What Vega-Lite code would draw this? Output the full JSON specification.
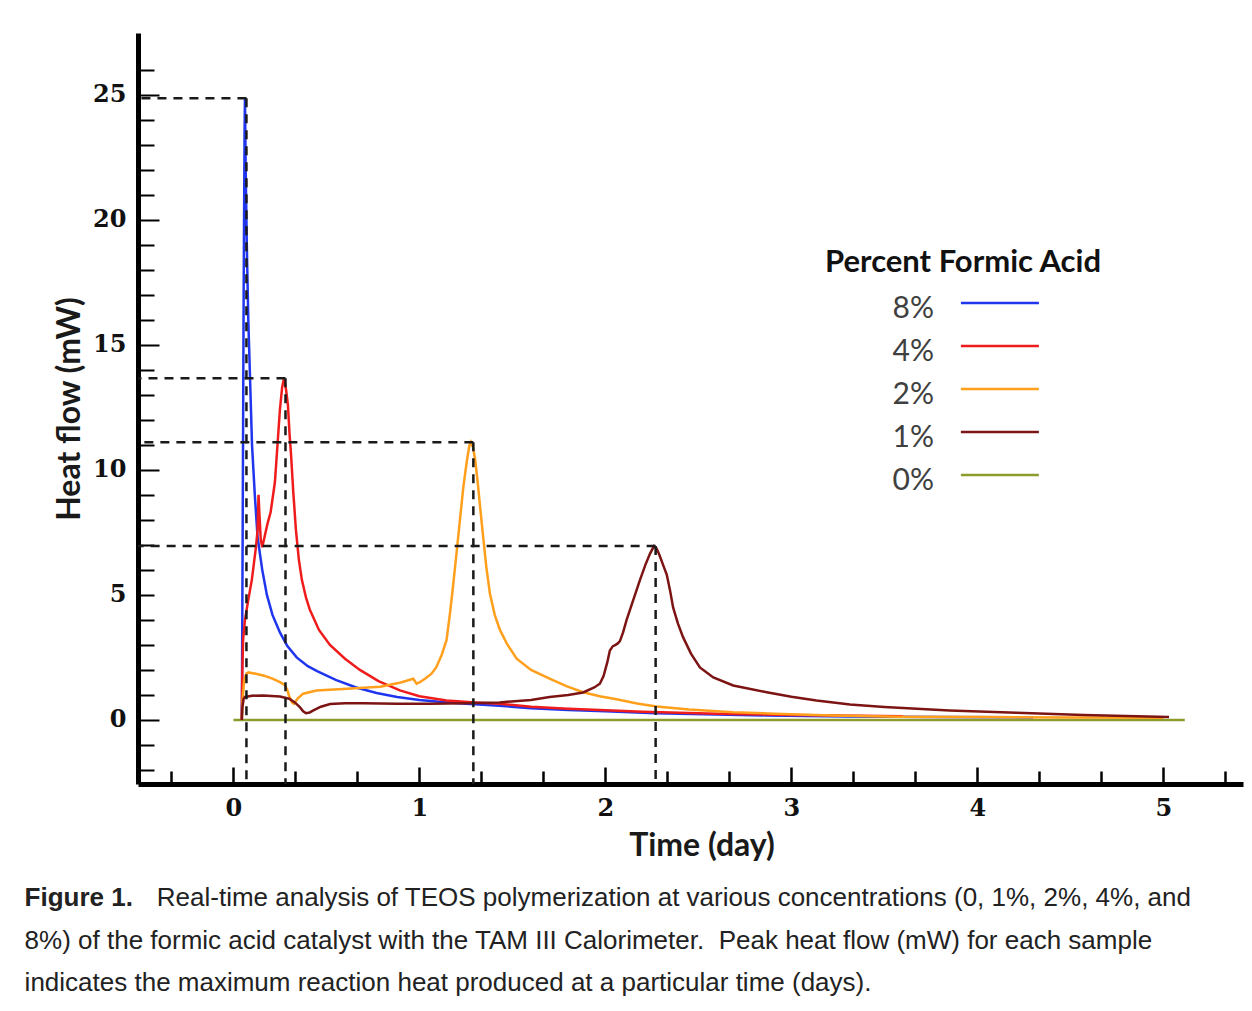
{
  "$schema": "https://vega.github.io/schema/vega-lite/v6.json",
  "width": 1105,
  "height": 751,
  "autosize": {"type": "none"},
  "padding": {"left": 138, "top": 33, "right": 9, "bottom": 227},
  "background": "white",
  "config": {"view": {"stroke": null}, "axis": {"grid": false}},
  "title": {
    "text": "Figure 1.",
    "subtitle": [
      "\u200b\u2003\u2003\u2003\u2003\u2003\u200aReal-time analysis of TEOS polymerization at various concentrations (0, 1%, 2%, 4%, and",
      "8%) of the formic acid catalyst with the TAM III Calorimeter.\u00a0 Peak heat flow (mW) for each sample",
      "indicates the maximum reaction heat produced at a particular time (days)."
    ],
    "orient": "bottom",
    "anchor": "start",
    "frame": "bounds",
    "offset": 24,
    "dx": -29,
    "font": "Liberation Sans",
    "fontSize": 26,
    "fontWeight": "bold",
    "color": "#222222",
    "subtitleFont": "Liberation Sans",
    "subtitleFontSize": 26,
    "subtitleFontWeight": "normal",
    "subtitleColor": "#222222",
    "subtitlePadding": -26,
    "subtitleLineHeight": 42.5
  },
  "datasets": {
    "curves": [
      {"pct": "0%", "t": 0.0, "q": 0},
      {"pct": "0%", "t": 5.115, "q": 0},

      {"pct": "8%", "t": 0.045, "q": 0.0},
      {"pct": "8%", "t": 0.046, "q": 1.0},
      {"pct": "8%", "t": 0.05, "q": 8},
      {"pct": "8%", "t": 0.055, "q": 17},
      {"pct": "8%", "t": 0.06, "q": 23.5},
      {"pct": "8%", "t": 0.062, "q": 24.9},
      {"pct": "8%", "t": 0.066, "q": 22},
      {"pct": "8%", "t": 0.072, "q": 19},
      {"pct": "8%", "t": 0.08, "q": 16},
      {"pct": "8%", "t": 0.09, "q": 13.5},
      {"pct": "8%", "t": 0.1, "q": 11},
      {"pct": "8%", "t": 0.115, "q": 9},
      {"pct": "8%", "t": 0.13, "q": 7.3},
      {"pct": "8%", "t": 0.155, "q": 6},
      {"pct": "8%", "t": 0.18, "q": 5},
      {"pct": "8%", "t": 0.21, "q": 4.2},
      {"pct": "8%", "t": 0.25, "q": 3.5},
      {"pct": "8%", "t": 0.29, "q": 2.95},
      {"pct": "8%", "t": 0.34, "q": 2.5},
      {"pct": "8%", "t": 0.4, "q": 2.15},
      {"pct": "8%", "t": 0.45, "q": 1.95},
      {"pct": "8%", "t": 0.55, "q": 1.6},
      {"pct": "8%", "t": 0.66, "q": 1.3},
      {"pct": "8%", "t": 0.77, "q": 1.08},
      {"pct": "8%", "t": 0.88, "q": 0.92},
      {"pct": "8%", "t": 1.0, "q": 0.8},
      {"pct": "8%", "t": 1.12, "q": 0.72},
      {"pct": "8%", "t": 1.23, "q": 0.66},
      {"pct": "8%", "t": 1.43, "q": 0.57},
      {"pct": "8%", "t": 1.6, "q": 0.47},
      {"pct": "8%", "t": 1.8, "q": 0.4},
      {"pct": "8%", "t": 2.0, "q": 0.35},
      {"pct": "8%", "t": 2.27, "q": 0.27},
      {"pct": "8%", "t": 2.6, "q": 0.22},
      {"pct": "8%", "t": 2.87, "q": 0.18},
      {"pct": "8%", "t": 3.3, "q": 0.14},
      {"pct": "8%", "t": 3.8, "q": 0.12},
      {"pct": "8%", "t": 4.3, "q": 0.1},

      {"pct": "4%", "t": 0.045, "q": 0},
      {"pct": "4%", "t": 0.048, "q": 2.0},
      {"pct": "4%", "t": 0.052, "q": 3.2},
      {"pct": "4%", "t": 0.062, "q": 4.0},
      {"pct": "4%", "t": 0.08, "q": 4.8},
      {"pct": "4%", "t": 0.099, "q": 5.6},
      {"pct": "4%", "t": 0.121, "q": 6.9},
      {"pct": "4%", "t": 0.13, "q": 7.6},
      {"pct": "4%", "t": 0.135, "q": 9.0},
      {"pct": "4%", "t": 0.14, "q": 8.2},
      {"pct": "4%", "t": 0.147, "q": 7.2},
      {"pct": "4%", "t": 0.155, "q": 6.9},
      {"pct": "4%", "t": 0.17, "q": 7.4},
      {"pct": "4%", "t": 0.185, "q": 7.9},
      {"pct": "4%", "t": 0.2, "q": 8.3},
      {"pct": "4%", "t": 0.223, "q": 9.5},
      {"pct": "4%", "t": 0.237, "q": 11.0},
      {"pct": "4%", "t": 0.25, "q": 12.4},
      {"pct": "4%", "t": 0.262, "q": 13.3},
      {"pct": "4%", "t": 0.272, "q": 13.65},
      {"pct": "4%", "t": 0.283, "q": 13.2},
      {"pct": "4%", "t": 0.293, "q": 12.6},
      {"pct": "4%", "t": 0.302, "q": 11.4},
      {"pct": "4%", "t": 0.309, "q": 10.7},
      {"pct": "4%", "t": 0.322, "q": 9.1},
      {"pct": "4%", "t": 0.336, "q": 7.6},
      {"pct": "4%", "t": 0.352, "q": 6.4},
      {"pct": "4%", "t": 0.368, "q": 5.6},
      {"pct": "4%", "t": 0.39, "q": 4.9},
      {"pct": "4%", "t": 0.411, "q": 4.4},
      {"pct": "4%", "t": 0.46, "q": 3.6},
      {"pct": "4%", "t": 0.519, "q": 3.0},
      {"pct": "4%", "t": 0.6, "q": 2.45},
      {"pct": "4%", "t": 0.68, "q": 2.0},
      {"pct": "4%", "t": 0.78, "q": 1.55},
      {"pct": "4%", "t": 0.895, "q": 1.18},
      {"pct": "4%", "t": 1.0, "q": 0.95},
      {"pct": "4%", "t": 1.146, "q": 0.78},
      {"pct": "4%", "t": 1.3, "q": 0.7},
      {"pct": "4%", "t": 1.43, "q": 0.65},
      {"pct": "4%", "t": 1.6, "q": 0.53},
      {"pct": "4%", "t": 1.8, "q": 0.45},
      {"pct": "4%", "t": 1.97, "q": 0.4},
      {"pct": "4%", "t": 2.2, "q": 0.33},
      {"pct": "4%", "t": 2.6, "q": 0.25},
      {"pct": "4%", "t": 3.0, "q": 0.2},
      {"pct": "4%", "t": 3.6, "q": 0.15},

      {"pct": "2%", "t": 0.045, "q": 0},
      {"pct": "2%", "t": 0.05, "q": 0.9},
      {"pct": "2%", "t": 0.058, "q": 1.6},
      {"pct": "2%", "t": 0.07, "q": 1.85},
      {"pct": "2%", "t": 0.08, "q": 1.9},
      {"pct": "2%", "t": 0.12, "q": 1.85},
      {"pct": "2%", "t": 0.16, "q": 1.78},
      {"pct": "2%", "t": 0.21, "q": 1.65},
      {"pct": "2%", "t": 0.25, "q": 1.51},
      {"pct": "2%", "t": 0.275, "q": 1.4},
      {"pct": "2%", "t": 0.29, "q": 1.2},
      {"pct": "2%", "t": 0.3, "q": 0.95},
      {"pct": "2%", "t": 0.315, "q": 0.7},
      {"pct": "2%", "t": 0.325, "q": 0.65},
      {"pct": "2%", "t": 0.345, "q": 0.85},
      {"pct": "2%", "t": 0.375, "q": 1.05},
      {"pct": "2%", "t": 0.447, "q": 1.18},
      {"pct": "2%", "t": 0.61, "q": 1.25},
      {"pct": "2%", "t": 0.79, "q": 1.33},
      {"pct": "2%", "t": 0.9, "q": 1.5},
      {"pct": "2%", "t": 0.967, "q": 1.65},
      {"pct": "2%", "t": 0.985, "q": 1.45},
      {"pct": "2%", "t": 1.0, "q": 1.5},
      {"pct": "2%", "t": 1.03, "q": 1.65},
      {"pct": "2%", "t": 1.065, "q": 1.85},
      {"pct": "2%", "t": 1.09, "q": 2.1},
      {"pct": "2%", "t": 1.12, "q": 2.6},
      {"pct": "2%", "t": 1.146, "q": 3.2},
      {"pct": "2%", "t": 1.165, "q": 4.3},
      {"pct": "2%", "t": 1.18, "q": 5.3},
      {"pct": "2%", "t": 1.2, "q": 6.7},
      {"pct": "2%", "t": 1.218, "q": 8.0},
      {"pct": "2%", "t": 1.236, "q": 9.3},
      {"pct": "2%", "t": 1.254, "q": 10.3},
      {"pct": "2%", "t": 1.268, "q": 10.95},
      {"pct": "2%", "t": 1.277, "q": 11.1},
      {"pct": "2%", "t": 1.288, "q": 10.9},
      {"pct": "2%", "t": 1.3, "q": 10.4},
      {"pct": "2%", "t": 1.312, "q": 9.6},
      {"pct": "2%", "t": 1.328, "q": 8.4},
      {"pct": "2%", "t": 1.343, "q": 7.3},
      {"pct": "2%", "t": 1.36, "q": 6.1},
      {"pct": "2%", "t": 1.379, "q": 5.05},
      {"pct": "2%", "t": 1.405, "q": 4.2},
      {"pct": "2%", "t": 1.433, "q": 3.6},
      {"pct": "2%", "t": 1.47, "q": 3.05},
      {"pct": "2%", "t": 1.523, "q": 2.45},
      {"pct": "2%", "t": 1.6, "q": 2.0},
      {"pct": "2%", "t": 1.7, "q": 1.65},
      {"pct": "2%", "t": 1.79, "q": 1.35},
      {"pct": "2%", "t": 1.88, "q": 1.11},
      {"pct": "2%", "t": 1.97, "q": 0.95},
      {"pct": "2%", "t": 2.06, "q": 0.83},
      {"pct": "2%", "t": 2.17, "q": 0.66},
      {"pct": "2%", "t": 2.275, "q": 0.54},
      {"pct": "2%", "t": 2.45, "q": 0.42},
      {"pct": "2%", "t": 2.687, "q": 0.31},
      {"pct": "2%", "t": 2.95, "q": 0.24},
      {"pct": "2%", "t": 3.22, "q": 0.18},
      {"pct": "2%", "t": 3.58, "q": 0.13},
      {"pct": "2%", "t": 4.0, "q": 0.12},
      {"pct": "2%", "t": 4.5, "q": 0.1},
      {"pct": "2%", "t": 5.0, "q": 0.09},

      {"pct": "1%", "t": 0.045, "q": 0},
      {"pct": "1%", "t": 0.048, "q": 0.5},
      {"pct": "1%", "t": 0.055, "q": 0.85},
      {"pct": "1%", "t": 0.062, "q": 0.92},
      {"pct": "1%", "t": 0.1, "q": 0.97},
      {"pct": "1%", "t": 0.16, "q": 0.98},
      {"pct": "1%", "t": 0.25, "q": 0.94},
      {"pct": "1%", "t": 0.3, "q": 0.85},
      {"pct": "1%", "t": 0.33, "q": 0.7},
      {"pct": "1%", "t": 0.357, "q": 0.51},
      {"pct": "1%", "t": 0.375, "q": 0.35},
      {"pct": "1%", "t": 0.39, "q": 0.27},
      {"pct": "1%", "t": 0.41, "q": 0.3},
      {"pct": "1%", "t": 0.43, "q": 0.38},
      {"pct": "1%", "t": 0.47, "q": 0.53},
      {"pct": "1%", "t": 0.52, "q": 0.64},
      {"pct": "1%", "t": 0.6, "q": 0.67},
      {"pct": "1%", "t": 0.7, "q": 0.67},
      {"pct": "1%", "t": 0.88, "q": 0.65},
      {"pct": "1%", "t": 1.056, "q": 0.65},
      {"pct": "1%", "t": 1.25, "q": 0.67},
      {"pct": "1%", "t": 1.43, "q": 0.7},
      {"pct": "1%", "t": 1.6, "q": 0.8},
      {"pct": "1%", "t": 1.7, "q": 0.92},
      {"pct": "1%", "t": 1.8, "q": 1.0},
      {"pct": "1%", "t": 1.88, "q": 1.1},
      {"pct": "1%", "t": 1.94, "q": 1.3},
      {"pct": "1%", "t": 1.97, "q": 1.45},
      {"pct": "1%", "t": 1.99, "q": 1.75},
      {"pct": "1%", "t": 2.01, "q": 2.3},
      {"pct": "1%", "t": 2.024, "q": 2.78},
      {"pct": "1%", "t": 2.04, "q": 2.95},
      {"pct": "1%", "t": 2.05, "q": 2.98},
      {"pct": "1%", "t": 2.065, "q": 3.05},
      {"pct": "1%", "t": 2.078, "q": 3.15},
      {"pct": "1%", "t": 2.095, "q": 3.5},
      {"pct": "1%", "t": 2.114, "q": 4.0},
      {"pct": "1%", "t": 2.15, "q": 4.8},
      {"pct": "1%", "t": 2.186, "q": 5.6},
      {"pct": "1%", "t": 2.215, "q": 6.2},
      {"pct": "1%", "t": 2.24, "q": 6.65},
      {"pct": "1%", "t": 2.261, "q": 6.95},
      {"pct": "1%", "t": 2.275, "q": 6.85},
      {"pct": "1%", "t": 2.29, "q": 6.6},
      {"pct": "1%", "t": 2.31, "q": 6.2},
      {"pct": "1%", "t": 2.33, "q": 5.8},
      {"pct": "1%", "t": 2.347, "q": 5.2},
      {"pct": "1%", "t": 2.364, "q": 4.5},
      {"pct": "1%", "t": 2.39, "q": 3.85},
      {"pct": "1%", "t": 2.418, "q": 3.3},
      {"pct": "1%", "t": 2.46, "q": 2.65},
      {"pct": "1%", "t": 2.508, "q": 2.1},
      {"pct": "1%", "t": 2.58, "q": 1.7},
      {"pct": "1%", "t": 2.687, "q": 1.38},
      {"pct": "1%", "t": 2.867, "q": 1.11},
      {"pct": "1%", "t": 3.0, "q": 0.93},
      {"pct": "1%", "t": 3.135, "q": 0.78},
      {"pct": "1%", "t": 3.315, "q": 0.62},
      {"pct": "1%", "t": 3.5, "q": 0.52},
      {"pct": "1%", "t": 3.85, "q": 0.38},
      {"pct": "1%", "t": 4.21, "q": 0.29},
      {"pct": "1%", "t": 4.57, "q": 0.2},
      {"pct": "1%", "t": 5.03, "q": 0.12}
    ],
    "peaks": [
      {"pct": "8%", "t": 0.07, "q": 24.85},
      {"pct": "4%", "t": 0.28, "q": 13.66},
      {"pct": "2%", "t": 1.29, "q": 11.1},
      {"pct": "1%", "t": 2.27, "q": 6.95}
    ]
  },
  "resolve": {"axis": {"x": "independent", "y": "independent"}},
  "layer": [
    {
      "data": {"name": "curves"},
      "mark": {"type": "line", "strokeWidth": 2.5},
      "encoding": {
        "x": {
          "field": "t", "type": "quantitative",
          "scale": {"domain": [-0.513, 5.428], "nice": false, "zero": false},
          "axis": {
            "orient": "bottom",
            "values": [0, 1, 2, 3, 4, 5],
            "ticks": false,
            "domain": true, "domainWidth": 5, "domainColor": "#000000",
            "labelFont": "DejaVu Serif", "labelFontWeight": "bold", "labelFontSize": 24,
            "labelColor": "#111111", "labelPadding": 12, "labelOverlap": false, "labelFlush": false,
            "title": "Time (day)", "titleFont": "Lato", "titleFontSize": 32, "titleFontWeight": "bold",
            "titleColor": "#1a1a1a", "titlePadding": 10, "titleX": 563.5
          }
        },
        "y": {
          "field": "q", "type": "quantitative",
          "scale": {"domain": [-2.56, 27.46], "nice": false, "zero": false},
          "axis": {
            "orient": "left",
            "values": [0, 5, 10, 15, 20, 25],
            "ticks": false,
            "domain": true, "domainWidth": 5, "domainColor": "#000000",
            "labelFont": "DejaVu Serif", "labelFontWeight": "bold", "labelFontSize": 24,
            "labelColor": "#111111", "labelPadding": 12, "labelOverlap": false, "labelFlush": false,
            "title": "Heat flow (mW)", "titleFont": "Lato", "titleFontSize": 32, "titleFontWeight": "bold",
            "titleColor": "#1a1a1a", "titlePadding": 6
          }
        },
        "color": {
          "field": "pct", "type": "nominal",
          "scale": {
            "domain": ["8%", "4%", "2%", "1%", "0%"],
            "range": ["#1f35ee", "#f01c1c", "#ff9f1c", "#7d1414", "#8e9c2c"]
          },
          "legend": {
            "title": "Percent Formic Acid",
            "orient": "none", "legendX": 687, "legendY": 215,
            "symbolType": "M9.3,0H15.3", "symbolSize": 676, "symbolStrokeWidth": 2.5,
            "labelAlign": "right", "labelOffset": 79, "labelLimit": 0,
            "labelFont": "Lato", "labelFontSize": 30, "labelColor": "#404040",
            "titleFont": "Lato", "titleFontSize": 31, "titleFontWeight": "bold", "titleColor": "#111111",
            "titleAnchor": "start", "titlePadding": 9, "rowPadding": 7, "titleLimit": 0,
            "encode": {
              "labels": {"update": {"dy": {"value": 6}}}
            }
          }
        }
      }
    },
    {
      "data": {"name": "peaks"},
      "mark": {"type": "rule", "strokeDash": [9, 7], "strokeWidth": 2.5, "color": "#1a1a1a"},
      "encoding": {
        "x": {
          "field": "t", "type": "quantitative",
          "scale": {"domain": [-0.513, 5.428], "nice": false, "zero": false},
          "axis": {
            "orient": "bottom",
            "values": [0, 1, 2, 3, 4, 5],
            "offset": -17, "tickSize": 17, "tickWidth": 2.5, "tickColor": "#000000",
            "domain": false, "labels": false, "title": null, "grid": false
          }
        },
        "x2": {"datum": -0.513},
        "y": {
          "field": "q", "type": "quantitative",
          "scale": {"domain": [-2.56, 27.46], "nice": false, "zero": false},
          "axis": {
            "orient": "left",
            "values": [0, 10, 15, 20, 25],
            "offset": -21, "tickSize": 21, "tickWidth": 2, "tickColor": "#000000",
            "domain": false, "labels": false, "title": null, "grid": false
          }
        }
      }
    },
    {
      "data": {"name": "peaks"},
      "mark": {"type": "rule", "strokeDash": [9, 7], "strokeWidth": 2.5, "color": "#1a1a1a"},
      "encoding": {
        "x": {
          "field": "t", "type": "quantitative",
          "scale": {"domain": [-0.513, 5.428], "nice": false, "zero": false},
          "axis": {
            "orient": "bottom",
            "values": [-0.3333, 0.3333, 0.6667, 1.3333, 1.6667, 2.3333, 2.6667, 3.3333, 3.6667, 4.3333, 4.6667, 5.3333],
            "offset": -13, "tickSize": 13, "tickWidth": 2.5, "tickColor": "#000000",
            "domain": false, "labels": false, "title": null, "grid": false
          }
        },
        "y": {
          "field": "q", "type": "quantitative",
          "scale": {"domain": [-2.56, 27.46], "nice": false, "zero": false},
          "axis": {
            "orient": "left",
            "values": [-2, -1, 1, 2, 3, 4, 5, 6, 7, 8, 9, 11, 12, 13, 14, 16, 17, 18, 19, 21, 22, 23, 24, 26],
            "offset": -16, "tickSize": 16, "tickWidth": 2, "tickColor": "#000000",
            "domain": false, "labels": false, "title": null, "grid": false
          }
        },
        "y2": {"datum": -2.56}
      }
    }
  ]
}
